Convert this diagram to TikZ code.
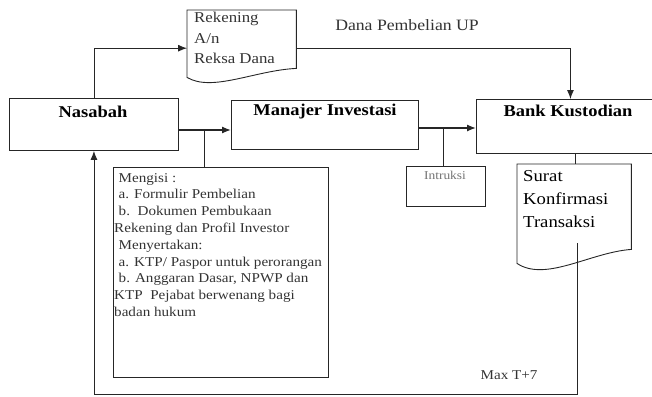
\documentclass[tikz,border=0pt]{standalone}
\usepackage{fontspec}
\setmainfont{Liberation Serif}
\usetikzlibrary{calc,arrows.meta}
\tikzset{
  box/.style={draw=black!85, line width=0.9pt, inner sep=0pt, anchor=north west},
  docbox/.style={inner sep=0pt, anchor=north west},
  wire/.style={draw=black!85, line width=0.9pt},
  arr/.style={wire, -{Latex[length=9pt,width=7pt]}},
  title/.style={font=\fontsize{16.5}{19}\selectfont\bfseries, xscale=1.12, inner sep=0pt},
  txt/.style={align=left, inner sep=0pt, anchor=north west, xscale=1.12, text=black!80}
}
\begin{document}
\begin{tikzpicture}[x=1pt, y=-1pt]
    \useasboundingbox (0,0) rectangle (652,396);
    % boxes
    \node[box, minimum width=169pt, minimum height=52pt] (nasabah) at (9,98) {};
    \node[box, minimum width=187pt, minimum height=49pt] (manajer) at (231,100) {};
    \node[box, minimum width=184pt, minimum height=54pt] (bank) at (476,99) {};
    \node[box, minimum width=215pt, minimum height=210pt] (mengisi) at (113,167) {};
    \node[box, minimum width=79pt, minimum height=40pt] (intruksi) at (406,166) {};
    \node[docbox, minimum width=109pt, minimum height=67pt] (rekening) at (187,10) {};
    \node[docbox, minimum width=114pt, minimum height=99pt] (surat) at (517,164) {};
    % document outlines
    \draw[wire] (rekening.north west) -- (rekening.south west)
        .. controls ($(rekening.south west)!0.23!(rekening.south east)+(0,15)$)
        and ($(rekening.south west)!0.62!(rekening.south east)+(0,-7)$)
        .. ($(rekening.south east)+(0,-9)$) -- (rekening.north east) -- cycle;
    \draw[wire] (surat.north west) -- (surat.south west)
        .. controls ($(surat.south west)!0.25!(surat.south east)+(0,19)$)
        and ($(surat.south west)!0.64!(surat.south east)+(0,-11)$)
        .. ($(surat.south east)+(0,-14)$) -- (surat.north east) -- cycle;
    % labels
    \node[title] (nasabahtxt) at (93,112) {Nasabah};
    \node[title] (manajertxt) at (325,112) {Manajer Investasi};
    \node[title] (banktxt) at (568,111) {Bank Kustodian};
    \node[txt, font=\fontsize{15}{20.5}\selectfont] (rektxt) at (194,12) {Rekening\\A/n\\Reksa Dana};
    \node[txt, font=\fontsize{16.7}{23}\selectfont, text=black] (surattxt) at (523,170) {Surat\\Konfirmasi\\Transaksi};
    \node[txt, font=\fontsize{13.5}{16.8}\selectfont] (mengisitxt) at (114,173) {%
        \hspace*{4pt}Mengisi :\\
        \hspace*{4pt}a. Formulir Pembelian\\
        \hspace*{4pt}b.\ \ Dokumen Pembukaan\\
        Rekening dan Profil Investor\\
        \hspace*{4pt}Menyertakan:\\
        \hspace*{4pt}a. KTP/ Paspor untuk perorangan\\
        \hspace*{4pt}b. Anggaran Dasar, NPWP dan\\
        KTP\ \ Pejabat berwenang bagi\\
        badan hukum};
    \node[txt, anchor=center, font=\fontsize{12}{14}\selectfont, text=black!55] (intruksitxt) at (445,175) {Intruksi};
    \node[txt, anchor=center, font=\fontsize{15.8}{18}\selectfont] (danatxt) at (407,25) {Dana Pembelian UP};
    \node[txt, anchor=center, font=\fontsize{13.5}{16}\selectfont] (maxtxt) at (509,375) {Max T+7};
    % connectors
    \coordinate (j1) at (204,130);
    \coordinate (j2) at (443,128);
    \coordinate (ret) at (577,243);
    \draw[arr, line width=1.3pt] (nasabah.east |- j1) -- (manajer.west |- j1);
    \draw[wire] (j1) -- (j1 |- mengisi.north);
    \draw[arr, line width=1.3pt] (manajer.east |- j2) -- (bank.west |- j2);
    \draw[wire] (j2) -- (j2 |- intruksi.north);
    \draw[wire] ([xshift=7pt]bank.south) -- ([xshift=7pt]bank.south |- surat.north);
    \draw[arr] (nasabah.north) |- ($(rekening.west)+(0,4.5)$);
    \draw[arr] ($(rekening.east)+(0,4.5)$) -| ([xshift=2pt]bank.north);
    \draw[arr] (ret) -- (577,394) -| (nasabah.south);
\end{tikzpicture}
\end{document}
